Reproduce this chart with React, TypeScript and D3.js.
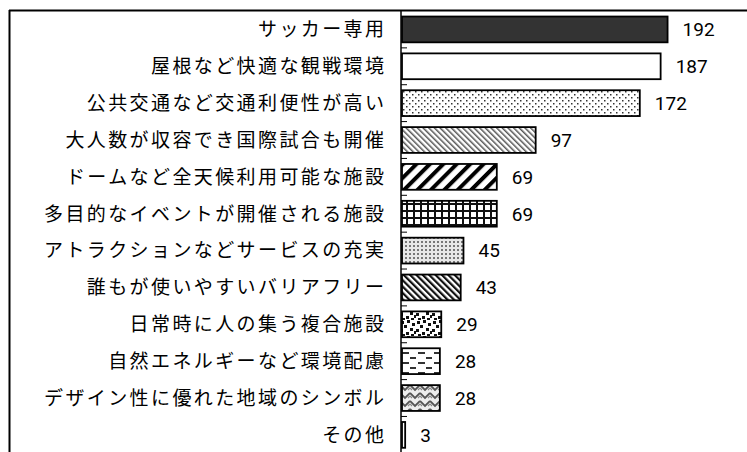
import React from 'react'
import * as d3 from 'd3'

const categories = [
  'サッカー専用',
  '屋根など快適な観戦環境',
  '公共交通など交通利便性が高い',
  '大人数が収容でき国際試合も開催',
  'ドームなど全天候利用可能な施設',
  '多目的なイベントが開催される施設',
  'アトラクションなどサービスの充実',
  '誰もが使いやすいバリアフリー',
  '日常時に人の集う複合施設',
  '自然エネルギーなど環境配慮',
  'デザイン性に優れた地域のシンボル',
  'その他',
]
const values = [192, 187, 172, 97, 69, 69, 45, 43, 29, 28, 28, 3]

// one fill per bar, in category order
const barFills = [
  '#333333',
  '#ffffff',
  'url(#dots)',
  'url(#thinDiag)',
  'url(#thickDiag)',
  'url(#grid)',
  'url(#fineDots)',
  'url(#diag)',
  'url(#confetti)',
  'url(#dashes)',
  'url(#zigzag)',
  '#ffffff',
]

const width = 747
const height = 452
const labelFont = "'Noto Sans CJK JP', 'Noto Sans', sans-serif"
const numFont = "Roboto, 'Noto Sans', sans-serif"

// confetti squares for the pattern tile
const confettiSquares = [
  [1, 1], [7, 0], [12, 3], [4, 5], [10, 8], [0, 9], [14, 11], [6, 12], [2, 14], [11, 14],
]

export default function App() {
  const x = d3.scaleLinear().domain([0, 250]).range([401, 748.1])
  const y = d3
    .scaleBand<string>()
    .domain(categories)
    .range([11, 11 + 12 * 36.86])
    .paddingInner(0.3)
    .paddingOuter(0.15)
  const step = y.step()
  const top = 11
  const tickYs = d3.range(1, categories.length + 1).map((i) => top + i * step)

  return (
    <div style={{ position: 'absolute', left: 0, top: 0 }}>
      <svg width={width} height={height} style={{ display: 'block', background: '#fff' }}>
        <defs>
          <pattern id="dots" width={6} height={6} patternUnits="userSpaceOnUse">
            <rect width={6} height={6} fill="#fff" />
            <rect x={1} y={1} width={1.5} height={1.5} fill="#333" />
            <rect x={4} y={4} width={1.5} height={1.5} fill="#333" />
          </pattern>
          <pattern id="thinDiag" width={4} height={10} patternUnits="userSpaceOnUse" patternTransform="rotate(-45)">
            <rect width={4} height={10} fill="#fff" />
            <rect x={0} width={1.5} height={10} fill="#555" />
          </pattern>
          <pattern id="thickDiag" width={9.5} height={10} patternUnits="userSpaceOnUse" patternTransform="rotate(45)">
            <rect width={9.5} height={10} fill="#fff" />
            <rect x={0} width={4} height={10} fill="#000" />
          </pattern>
          <pattern id="grid" width={7} height={7} patternUnits="userSpaceOnUse">
            <rect width={7} height={7} fill="#fff" />
            <rect x={0} y={0} width={2} height={7} fill="#111" />
            <rect x={0} y={0} width={7} height={2} fill="#111" />
          </pattern>
          <pattern id="fineDots" width={4} height={4} patternUnits="userSpaceOnUse">
            <rect width={4} height={4} fill="#e8e8e8" />
            <rect x={1} y={1} width={2} height={2} fill="#777" />
          </pattern>
          <pattern id="diag" width={4.5} height={10} patternUnits="userSpaceOnUse" patternTransform="rotate(-45)">
            <rect width={4.5} height={10} fill="#fff" />
            <rect x={0} width={2.2} height={10} fill="#111" />
          </pattern>
          <pattern id="confetti" width={16} height={16} patternUnits="userSpaceOnUse">
            <rect width={16} height={16} fill="#fff" />
            {confettiSquares.map(([cx, cy], i) => (
              <rect key={i} x={cx} y={cy} width={3} height={3} fill="#111" />
            ))}
          </pattern>
          <pattern id="dashes" width={16} height={10} patternUnits="userSpaceOnUse">
            <rect width={16} height={10} fill="#fff" />
            <rect x={2} y={2} width={7} height={2} fill="#333" />
            <rect x={10} y={7} width={7} height={2} fill="#333" />
          </pattern>
          <pattern id="zigzag" width={10} height={8} patternUnits="userSpaceOnUse">
            <rect width={10} height={8} fill="#eee" />
            <path d="M0,1 L5,6 L10,1" fill="none" stroke="#555" strokeWidth={1.8} />
            <path d="M0,4 L2,6 M8,6 L10,4" fill="none" stroke="#888" strokeWidth={1.2} />
          </pattern>
        </defs>

        {/* frame */}
        <line x1={9} x2={width} y1={10.5} y2={10.5} stroke="#000" strokeWidth={2} />
        <line x1={9.5} x2={9.5} y1={10} y2={height} stroke="#000" strokeWidth={2} />

        {/* bars */}
        {categories.map((c, i) => (
          <rect
            key={c}
            x={x(0) + 1}
            y={y(c)!}
            width={Math.max(0, x(values[i]) - x(0) - 1)}
            height={y.bandwidth()}
            fill={barFills[i]}
            stroke="#000"
            strokeWidth={1.8}
          />
        ))}

        {/* axis line and ticks */}
        <line x1={401} x2={401} y1={10} y2={height} stroke="#000" strokeWidth={1.5} />
        {tickYs.map((ty, i) => (
          <line key={i} x1={401} x2={407} y1={ty} y2={ty} stroke="#000" strokeWidth={1} />
        ))}

        {/* category labels */}
        {categories.map((c) => (
          <text
            key={c}
            x={384 + 2.4}
            y={y(c)! + y.bandwidth() / 2}
            dy="0.36em"
            textAnchor="end"
            fontFamily={labelFont}
            fontSize={19}
            letterSpacing={2.4}
            fill="#000"
          >
            {c}
          </text>
        ))}

        {/* value labels */}
        {categories.map((c, i) => (
          <text
            key={c}
            x={x(values[i]) + 15}
            y={y(c)! + y.bandwidth() / 2}
            dy="0.36em"
            fontFamily={numFont}
            fontSize={19}
            fill="#000"
          >
            {values[i]}
          </text>
        ))}
      </svg>
    </div>
  )
}
